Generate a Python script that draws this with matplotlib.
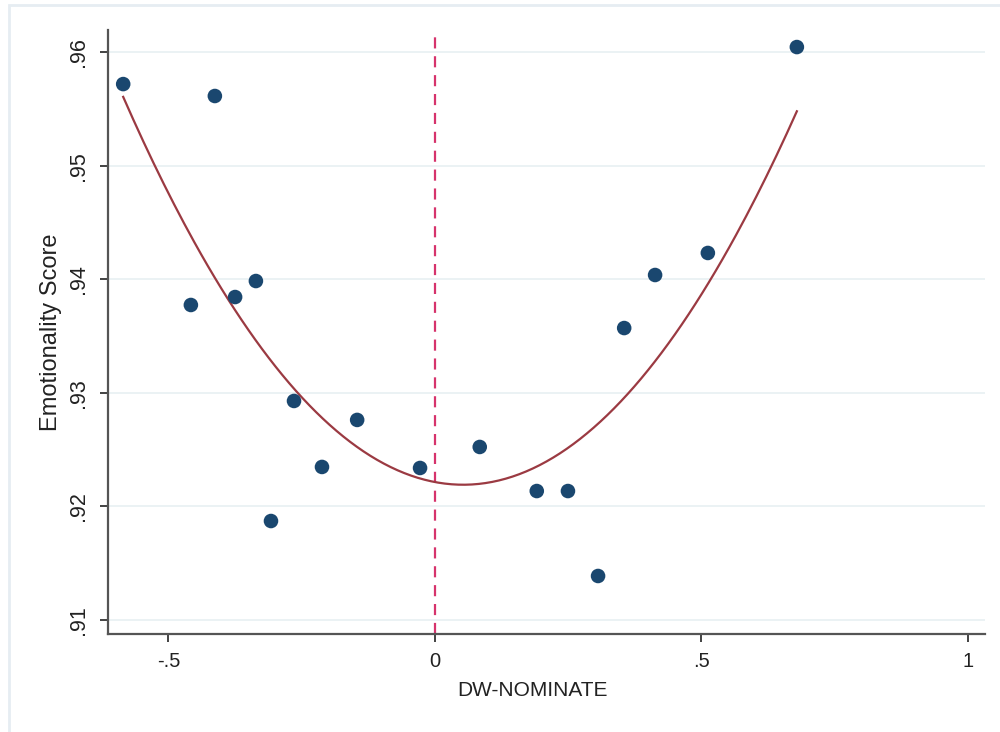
import numpy as np
import matplotlib.pyplot as plt
from matplotlib.patches import Rectangle

plt.rcParams['font.family'] = ['Liberation Sans', 'DejaVu Sans']

# DW-NOMINATE ideology vs. emotionality score
dw_nominate = [-0.585, -0.413, -0.458, -0.375, -0.336, -0.2645, -0.3077, -0.212, -0.146,
               -0.028, 0.084, 0.191, 0.2495, 0.306, 0.355, 0.413, 0.512, 0.679]
emotionality = [0.95718, 0.95613, 0.93773, 0.93843, 0.93984, 0.92928, 0.91871, 0.92347,
                0.92761, 0.92338, 0.92523, 0.92135, 0.92135, 0.91387, 0.9357, 0.94037,
                0.94231, 0.96044]

# quadratic fit (qfit) coefficients: y = a*x^2 + b*x + c
qfit_coef = [0.0839, -0.00889, 0.92214]

x_ticks = [-0.5, 0, 0.5, 1]
x_tick_labels = ['-.5', '0', '.5', '1']
y_ticks = [0.91, 0.92, 0.93, 0.94, 0.95, 0.96]
y_tick_labels = ['.91', '.92', '.93', '.94', '.95', '.96']

x = np.array(dw_nominate)
y = np.array(emotionality)

xf = np.linspace(x.min(), x.max(), 200)
yf = np.polyval(qfit_coef, xf)

fig = plt.figure(figsize=(10, 7.32), dpi=100)
# light outer frame of the graph region
fig.patches.append(Rectangle((0.009, -0.01), 1.0, 1.003, transform=fig.transFigure,
                             facecolor='none', edgecolor='#e6edf2', linewidth=2, zorder=-1))
ax = fig.add_axes([0.108, 0.134, 0.877, 0.825])
ax.set_facecolor('none')

for yt in y_ticks:
    ax.axhline(yt, color='#e8f0f2', linewidth=1.2, zorder=1)

ax.axvline(0, color='#d6336c', linewidth=1.6, linestyle=(0, (5, 3.5)), zorder=2)
ax.plot(xf, yf, color='#9b3a42', linewidth=1.6, zorder=3)
ax.scatter(x, y, s=110, color='#1a476f', edgecolors='none', zorder=4)

ax.set_xlim(-0.6135, 1.032)
ax.set_ylim(0.90877, 0.96194)
ax.set_xticks(x_ticks)
ax.set_xticklabels(x_tick_labels)
ax.set_yticks(y_ticks)
ax.set_yticklabels(y_tick_labels, rotation=90, va='center')

for side in ['top', 'right']:
    ax.spines[side].set_visible(False)
for side in ['left', 'bottom']:
    ax.spines[side].set_color('#555555')
    ax.spines[side].set_linewidth(1.6)
ax.tick_params(axis='both', colors='#222222', length=6, width=1.2)
ax.tick_params(axis='x', labelsize=14.5, pad=7)
ax.tick_params(axis='y', labelsize=15.5, pad=8)

ax.set_xlabel('DW-NOMINATE', fontsize=15, color='#222222')
ax.set_ylabel('Emotionality Score', fontsize=17, color='#222222')
ax.xaxis.set_label_coords(0.4835, -0.078)
ax.yaxis.set_label_coords(-0.052, 0.5)

fig.savefig('out.png', dpi=100)
